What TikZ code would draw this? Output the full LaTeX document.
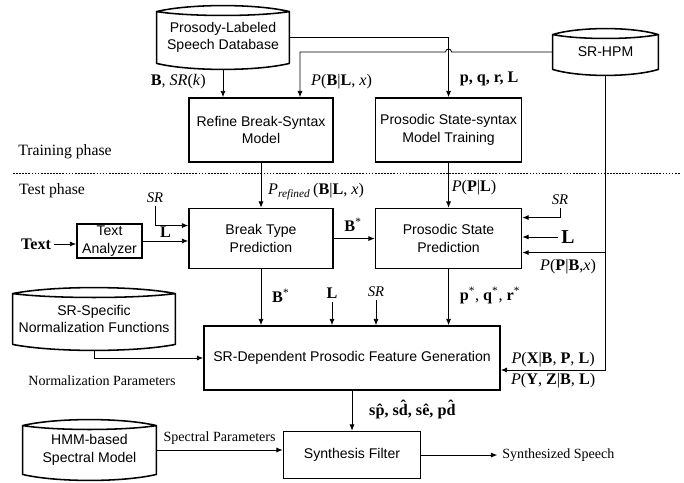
\documentclass[tikz,border=0pt]{standalone}
\usepackage{fontspec}
\setmainfont{Liberation Serif}
\newfontfamily\boxfont{Liberation Sans}
\usetikzlibrary{calc,positioning,arrows.meta}

% outline of a storage drum round a named node
\newcommand{\drumline}[1]{%
  \draw[line width=1.1pt, line join=round] (#1.north west)
    .. controls ($(#1.north west)!0.25!(#1.north east)+(0,0.2)$)
            and ($(#1.north west)!0.75!(#1.north east)+(0,0.2)$) .. (#1.north east)
    .. controls ($(#1.north west)!0.75!(#1.north east)+(0,-0.13)$)
            and ($(#1.north west)!0.25!(#1.north east)+(0,-0.13)$) .. (#1.north west)
    -- (#1.south west)
    .. controls ($(#1.south west)!0.25!(#1.south east)+(0,-0.2)$)
            and ($(#1.south west)!0.75!(#1.south east)+(0,-0.2)$) .. (#1.south east)
    -- (#1.north east);}

\begin{document}
\begin{tikzpicture}[%
    >={Latex[length=4.5pt,width=3.6pt]},
    line width=0.6pt,
    box/.style={draw, line width=1.1pt, align=center, inner sep=0pt,
      font=\boxfont\fontsize{10}{12.5}\selectfont},
    drum/.style={align=center, inner sep=0pt,
      font=\boxfont\fontsize{10}{12.5}\selectfont},
    lbl/.style={font=\fontsize{11.5}{13}\selectfont, inner sep=2pt},
    note/.style={font=\fontsize{10}{12}\selectfont}]

  \useasboundingbox (0,0) rectangle (17.1,-12.075);

  % --- training phase ------------------------

  \node (DB) at (5.575,-0.9375) [drum, minimum width=3.3cm, minimum height=1.275cm]
        {Prosody-Labeled\\Speech Database};
  \drumline{DB}

  \node (HPM) at (15.1375,-1.3) [drum, minimum width=2.625cm, minimum height=0.85cm]
        {SR-HPM};
  \drumline{HPM}

  \node (RBS) at (6.525,-3.25) [box, minimum width=3.6cm, minimum height=1.6cm]
        {Refine Break-Syntax\\Model};
  \node (PST) [right=1.025cm of RBS, box, minimum width=3.65cm, minimum height=1.6cm]
        {Prosodic State-syntax\\Model Training};

  \coordinate (hop) at (PST.north |- HPM.west);
  \coordinate (rin) at ($(RBS.north)+(0.975,0)$);

  \draw[->] ($(DB.south)+(0,-0.15)$) --
      node[left=0.35cm, pos=0.45, lbl] {\textbf{B}, \textit{SR}(\textit{k})} (DB.south |- RBS.north);
  \draw[->] (DB.east) -| node[right=0.2cm, pos=0.85, lbl] {\textbf{p, q, r, L}} (PST.north);
  \draw[->] (HPM.west) -- ($(hop)+(0.075,0)$)
      arc[start angle=0, end angle=180, radius=0.075cm] -- (hop -| rin)
      -- node[right=0.2cm, pos=0.65, lbl] {\textit{P}(\textbf{B}|\textbf{L}, \textit{x})} (rin);

  % phase separator
  \coordinate (sepL) at (0.325,-4.325);
  \coordinate (sepR) at (17.0,-4.325);
  \draw[dash pattern=on 1.2pt off 1pt, line width=0.5pt] (sepL) -- (sepR);
  \node (trn) at (1.625,-3.8) [lbl, font=\fontsize{11.2}{13}\selectfont] {Training phase};
  \node (tst) at (1.3,-4.775) [lbl, font=\fontsize{11.2}{13}\selectfont] {Test phase};

  % --- test phase ----------------------------

  \node (BTP) [below=1.125cm of RBS, box, minimum width=3.6cm, minimum height=1.5cm]
        {Break Type\\Prediction};
  \node (PSP) [below=1.125cm of PST, box, minimum width=3.65cm, minimum height=1.5cm]
        {Prosodic State\\Prediction};

  \draw[->] (RBS.south) -- node[right=0.1cm, pos=0.64, lbl]
      {\textit{P}\textsubscript{\textit{refined}}\,(\textbf{B}|\textbf{L}, \textit{x})} (BTP.north);
  \draw[->] (PST.south) -- node[right, pos=0.55, lbl] {\textit{P}(\textbf{P}|\textbf{L})} (PSP.north);
  \draw[->] (BTP) -- node[above, pos=0.47, yshift=0.1cm, lbl] {\textbf{B}\textsuperscript{*}} (PSP);

  \node (TA) at (2.7375,-6.025) [box, minimum width=1.625cm, minimum height=0.85cm]
        {Text\\Analyzer};
  \node (txt) at (0.9,-6.1) [lbl] {\textbf{Text}};
  \draw[->] (txt.east) -- (txt.east -| TA.west);
  \draw[->] (TA.east) -- node[above, inner sep=1pt, lbl] {\textbf{L}} (TA.east -| BTP.west);

  \node (srA) at (3.875,-4.95) [lbl, font=\fontsize{10.5}{12}\selectfont] {\textit{SR}};
  \coordinate (btin) at ($(BTP.west)+(0,0.325)$);
  \draw[->] (srA.south) |- (btin);

  \node (srB) at (14.0,-5.0) [lbl, font=\fontsize{10.5}{12}\selectfont] {\textit{SR}};
  \coordinate (psin1) at ($(PSP.east)+(0,0.525)$);
  \draw[->] (srB.south) |- (psin1);
  \node (lB) at (14.2,-5.925) [lbl, font=\fontsize{14}{16}\selectfont] {\textbf{L}};
  \draw[->] (lB.west) -- (lB.west -| PSP.east);

  \node (SRD) at (8.8,-8.95) [box, minimum width=7.4cm, minimum height=1.6cm]
        {SR-Dependent Prosodic Feature Generation};

  \coordinate (vb) at ($(HPM.south |- SRD.east)+(0,-0.3)$);
  \coordinate (psin2) at ($(PSP.east)+(0,-0.35)$);
  \draw[->] ($(HPM.south)+(0,-0.15)$) -- (vb) --
      node[above, lbl] {\textit{P}(\textbf{X}|\textbf{B}, \textbf{P}, \textbf{L})}
      node[below, lbl] {\textit{P}(\textbf{Y}, \textbf{Z}|\textbf{B}, \textbf{L})} (vb -| SRD.east);
  \draw[->] (psin2 -| vb) -- node[below, pos=0.45, yshift=-0.1cm, lbl]
      {\textit{P}(\textbf{P}|\textbf{B},\textit{x})} (psin2);

  \node (NSF) at (2.35,-7.975) [drum, minimum width=4.05cm, minimum height=1.25cm]
        {SR-Specific\\Normalization Functions};
  \drumline{NSF}
  \draw[->] ($(NSF.south)+(0,-0.15)$) |- (SRD.west);
  \node (np) at (2.55,-9.525) [note] {Normalization Parameters};

  \draw[->] (BTP.south) -- node[right=0.2cm, pos=0.47, lbl] {\textbf{B}\textsuperscript{*}} (BTP.south |- SRD.north);
  \node (lC) at (8.3,-7.325) [lbl] {\textbf{L}};
  \draw[->] (lC.south) -- (lC.south |- SRD.north);
  \node (srC) at (9.4,-7.3) [lbl, font=\fontsize{10.5}{12}\selectfont] {\textit{SR}};
  \draw[->] (srC.south) -- (srC.south |- SRD.north);
  \draw[->] (PSP.south) -- node[right=0.2cm, pos=0.47, lbl]
      {\textbf{p}\textsuperscript{*}, \textbf{q}\textsuperscript{*}, \textbf{r}\textsuperscript{*}} (PSP.south |- SRD.north);

  % --- synthesis -----------------------------

  \node (SF) [below=1.0cm of SRD, box, minimum width=3.425cm, minimum height=1.175cm]
        {Synthesis Filter};
  \draw[->] (SRD.south) -- node[right=0.35cm, pos=0.47, lbl]
      {\textbf{s\^{p}, s\^{d}, s\^{e}, p\^{d}}} (SF.north);

  \node (HMM) at (2.2375,-11.25) [drum, minimum width=3.325cm, minimum height=1.2cm]
        {HMM-based\\Spectral Model};
  \drumline{HMM}
  \draw[->] (HMM.east) -- node[above, note] {Spectral Parameters} (HMM.east -| SF.west);

  \node (out) [right=1.9cm of SF, note] {Synthesized Speech};
  \draw[->] (SF) -- (out);
\end{tikzpicture}
\end{document}
